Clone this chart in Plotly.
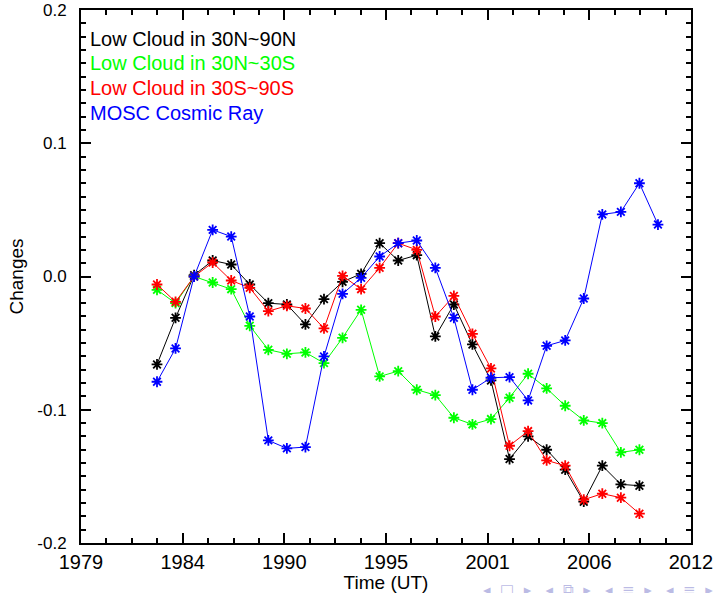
import numpy as np
import plotly.graph_objects as go

# ---------------- data ----------------
cloud_years = list(range(1983, 2010))
ray_years = list(range(1983, 2011))

low_cloud_30n_90n = [-0.066, -0.031, 0.001, 0.012, 0.009, -0.006, -0.020, -0.021, -0.036,
                     -0.017, -0.004, 0.002, 0.025, 0.012, 0.016, -0.045, -0.021, -0.051,
                     -0.078, -0.137, -0.120, -0.130, -0.145, -0.169, -0.142, -0.156, -0.157]
low_cloud_30n_30s = [-0.010, -0.020, 0.000, -0.0045, -0.0095, -0.037, -0.055, -0.058, -0.057,
                     -0.065, -0.046, -0.025, -0.075, -0.071, -0.085, -0.089, -0.106, -0.111,
                     -0.107, -0.091, -0.073, -0.084, -0.097, -0.108, -0.110, -0.132, -0.130]
low_cloud_30s_90s = [-0.006, -0.019, 0.000, 0.0105, -0.003, -0.0085, -0.026, -0.022, -0.024,
                     -0.039, 0.0005, -0.0095, 0.0065, 0.025, 0.020, -0.030, -0.0146, -0.043,
                     -0.069, -0.127, -0.116, -0.138, -0.142, -0.1675, -0.163, -0.166, -0.178]
mosc_cosmic_ray = [-0.079, -0.054, 0.000, 0.035, 0.030, -0.030, -0.123, -0.129, -0.128,
                   -0.060, -0.013, -0.001, 0.015, 0.025, 0.027, 0.0065, -0.031, -0.085,
                   -0.076, -0.0755, -0.093, -0.052, -0.048, -0.0165, 0.0466, 0.0485, 0.070,
                   0.039]

series_names = ["Low Cloud in 30N~90N", "Low Cloud in 30N~30S",
                "Low Cloud in 30S~90S", "MOSC Cosmic Ray"]
series_colors = ["#000000", "#00ff00", "#ff0000", "#0000ff"]

x_tick_labels = ["1979", "1984", "1990", "1995", "2001", "2006", "2012"]
y_tick_vals = [-0.2, -0.1, 0.0, 0.1, 0.2]
y_tick_labels = ["-0.2", "-0.1", "0.0", "0.1", "0.2"]

# ---------------- figure ----------------
FONT = "Liberation Sans, Arial, Helvetica, sans-serif"
x_range = [1978.904, 2011.78]
x_major = list(np.linspace(x_range[0], x_range[1], 7))
x_all = np.linspace(x_range[0], x_range[1], 25)
x_minor = [v for i, v in enumerate(x_all) if i % 4 != 0]

fig = go.Figure()
xs = [cloud_years, cloud_years, cloud_years, ray_years]
ys = [low_cloud_30n_90n, low_cloud_30n_30s, low_cloud_30s_90s, mosc_cosmic_ray]
for name, color, x, y in zip(series_names, series_colors, xs, ys):
    fig.add_trace(go.Scatter(
        x=x, y=y, name=name, mode="lines+markers",
        line=dict(color=color, width=1),
        marker=dict(symbol="asterisk", size=9, color=color,
                    line=dict(color=color, width=1.8)),
        showlegend=False,
    ))

# legend as coloured text
legend_y = [0.9456, 0.9006, 0.8537, 0.8068]
for name, color, yy in zip(series_names, series_colors, legend_y):
    fig.add_annotation(x=0.0115, y=yy, xref="paper", yref="paper", text=name,
                       showarrow=False, xanchor="left", yanchor="middle",
                       font=dict(family=FONT, size=20, color=color))

# beamer navigation symbols (faint)
fig.add_annotation(x=1.039, y=-0.068, xref="paper", yref="paper",
                   text="◂&nbsp;&nbsp;□&nbsp;&nbsp;▸&nbsp;&nbsp;&nbsp;◂&nbsp;&nbsp;⧉&nbsp;&nbsp;▸"
                        "&nbsp;&nbsp;&nbsp;◂&nbsp;&nbsp;≡&nbsp;&nbsp;▸&nbsp;&nbsp;&nbsp;◂&nbsp;&nbsp;≡&nbsp;&nbsp;▸",
                   showarrow=False, xanchor="right", yanchor="top",
                   font=dict(family="DejaVu Sans", size=15, color="rgba(165,165,220,0.75)"))

axis_common = dict(showline=True, linewidth=2, linecolor="black", mirror="ticks",
                   ticks="inside", ticklen=10, tickwidth=1.5, tickcolor="black",
                   showgrid=False, zeroline=False, automargin=False,
                   ticklabeloverflow="allow")

fig.update_xaxes(range=x_range, tickmode="array", tickvals=x_major, ticktext=x_tick_labels,
                 minor=dict(tickvals=x_minor, ticks="inside", ticklen=5, tickwidth=1.5,
                            tickcolor="black", showgrid=False),
                 tickfont=dict(family=FONT, size=20, color="black"),
                 title=dict(text="Time (UT)", font=dict(family=FONT, size=19, color="black"),
                            standoff=0),
                 **axis_common)
fig.update_yaxes(range=[-0.2, 0.2], tickmode="array", tickvals=y_tick_vals,
                 ticktext=y_tick_labels, ticklabelstandoff=9,
                 minor=dict(dtick=0.01, tick0=0, ticks="inside", ticklen=5, tickwidth=1.5,
                            tickcolor="black", showgrid=False),
                 tickfont=dict(family=FONT, size=17, color="black"),
                 title=dict(text="Changes", font=dict(family=FONT, size=19, color="black"),
                            standoff=9),
                 **axis_common)

fig.update_layout(width=715, height=593, margin=dict(l=81, r=24, t=10, b=50),
                  paper_bgcolor="white", plot_bgcolor="white")

# remove the browser's default 8px body margin so the figure fills the window
fig.write_html("out.html", config={"displayModeBar": False},
               post_script="document.body.style.margin='0';document.body.style.overflow='hidden';")
